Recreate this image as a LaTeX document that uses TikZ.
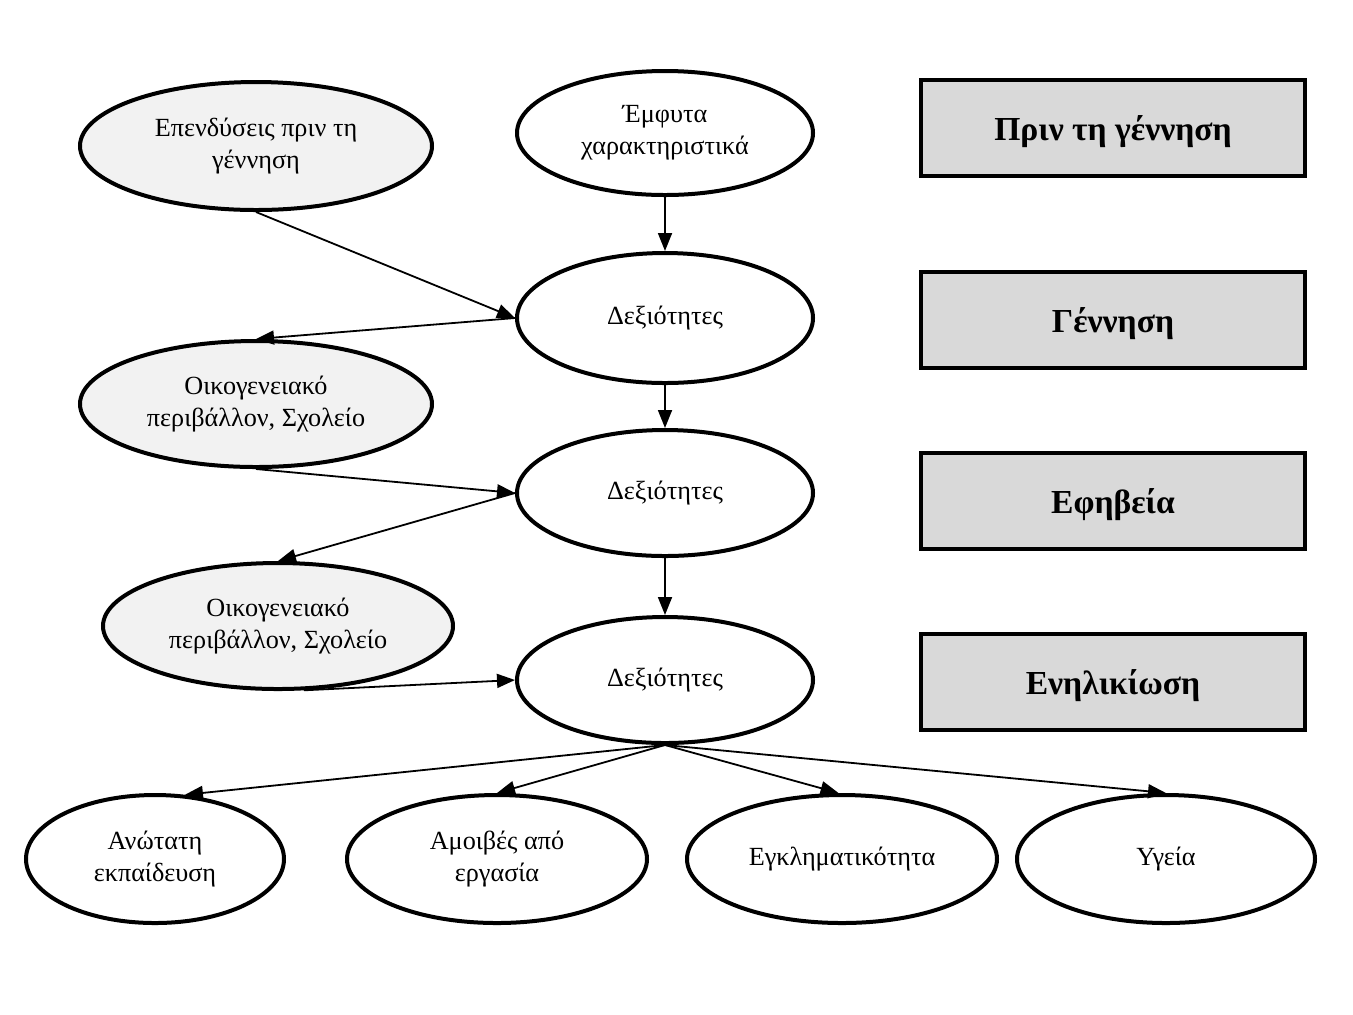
\documentclass[tikz,border=0pt]{standalone}
\usepackage{fontspec}
\setmainfont{Liberation Serif}
\usetikzlibrary{shapes.geometric,arrows.meta}
\begin{document}
\begin{tikzpicture}[x=0.5pt,y=-0.5pt,
    oval/.style={draw,ellipse,line width=2pt,inner sep=0pt,align=center,
        font=\fontsize{13.1}{16}\selectfont},
    grayoval/.style={oval,fill=black!5},
    stage/.style={draw,rectangle,line width=1.8pt,fill=black!15,text depth=0pt,
        minimum width=192pt,minimum height=48pt,font=\fontsize{16.8}{19}\selectfont\bfseries},
    arr/.style={line width=0.9pt,-{Triangle[length=9pt,width=7pt]}}]
    \useasboundingbox (0,0) rectangle (1353,1014);

            %%middle column
            \node[oval,minimum width=148pt,minimum height=62pt] (innate) at (665,133){Έμφυτα\\χαρακτηριστικά};
            \node[oval,minimum width=148pt,minimum height=65pt] (skillsA) at (665,318){Δεξιότητες};
            \node[oval,minimum width=148pt,minimum height=63pt] (skillsB) at (665,493){Δεξιότητες};
            \node[oval,minimum width=148pt,minimum height=63pt] (skillsC) at (665,680){Δεξιότητες};

            %%left column
            \node[grayoval,minimum width=176pt,minimum height=64pt] (prenatal) at (256,146){Επενδύσεις πριν τη\\γέννηση};
            \node[grayoval,minimum width=176pt,minimum height=63pt] (familyA) at (256,404){Οικογενειακό\\περιβάλλον, Σχολείο};
            \node[grayoval,minimum width=175pt,minimum height=63pt] (familyB) at (278,626){Οικογενειακό\\περιβάλλον, Σχολείο};

            %%outcomes
            \node[oval,minimum width=129pt,minimum height=64pt] (college) at (155,859){Ανώτατη\\εκπαίδευση};
            \node[oval,minimum width=150pt,minimum height=64pt] (wages) at (497,859){Αμοιβές από\\εργασία};
            \node[oval,minimum width=155pt,minimum height=64pt] (crime) at (842,859){Εγκληματικότητα};
            \node[oval,minimum width=149pt,minimum height=64pt] (health) at (1166,859){Υγεία};

            %%stages
            \node[stage] (beforebirth) at (1113,128){Πριν τη γέννηση};
            \node[stage] (birth) at (1113,320){Γέννηση};
            \node[stage] (teens) at (1113,501){Εφηβεία};
            \node[stage] (adult) at (1113,682){Ενηλικίωση};

            %%draw the arrows
            \draw[arr] (innate.south) to (skillsA.north);
            \draw[arr] (prenatal.south) to (skillsA.west);
            \draw[arr] (skillsA.west) to (familyA.north);
            \draw[arr] (skillsA.south) to (skillsB.north);
            \draw[arr] (familyA.south) to (skillsB.west);
            \draw[arr] (skillsB.west) to (familyB.north);
            \draw[arr] (skillsB.south) to (skillsC.north);
            \draw[arr] (familyB.-68) to (skillsC.west);

            \draw[arr] (skillsC.south) to (college.65);
            \draw[arr] (skillsC.south) to (wages.north);
            \draw[arr] (skillsC.south) to (crime.93);
            \draw[arr] (skillsC.south) to (health.north);
\end{tikzpicture}
\end{document}
